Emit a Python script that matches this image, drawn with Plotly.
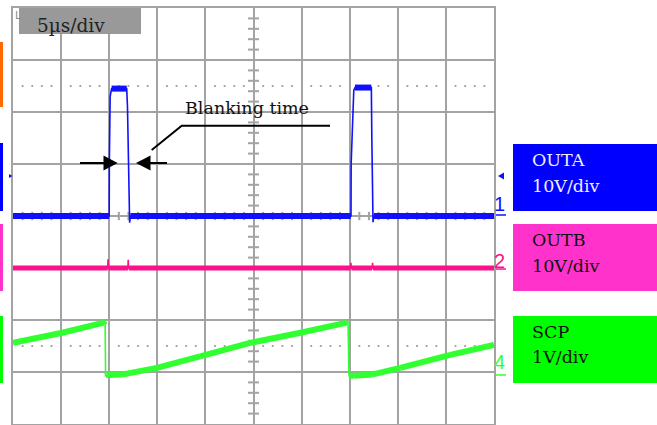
import numpy as np
import plotly.graph_objects as go

# ---------------- data (in scope divisions) ----------------
outa_x = [0, 2.0, 2.003, 2.02, 2.05, 2.364, 2.38, 2.40, 2.415, 2.425, 2.44,
          7.02, 7.027, 7.03, 7.06, 7.085, 7.11, 7.45, 7.46, 7.475, 7.485, 7.50, 10]
outa_y = [0, 0, 1.0, 2.3, 2.45, 2.45, 2.1, 1.0, 0, -0.13, 0,
          0, 0, 1.0, 2.0, 2.42, 2.47, 2.47, 1.5, 0.05, -0.12, 0, 0]

outb_x = [0, 1.97, 1.975, 1.985, 2.39, 2.395, 2.405, 7.02, 7.025, 7.035, 7.47, 7.475, 7.485, 10]
outb_y = [-1.0, -1.0, -0.83, -1.0, -1.0, -0.84, -1.0, -1.0, -0.9, -1.0, -1.0, -0.9, -1.0, -1.0]

scp_x = [0, 1.0, 1.89, 1.915, 1.925, 1.95, 2.26, 2.99, 3.89, 4.93, 6.0, 6.94,
         6.965, 6.985, 7.1, 7.46, 8.05, 9.09, 10]
scp_y = [-2.44, -2.25, -2.05, -2.02, -3.07, -3.06, -3.05, -2.92, -2.70, -2.44, -2.24, -2.05,
         -2.02, -3.07, -3.07, -3.05, -2.92, -2.67, -2.48]

time_label = "5µs/div"
channels = ["OUTA", "OUTB", "SCP"]
scales = ["10V/div", "10V/div", "1V/div"]
annot_text = "Blanking time"

# ---------------- geometry helpers ----------------
W, H = 657, 425
L, R, T, B = 13, 494, 8, 424


def PX(x):
    return (x - L) / (R - L)


def PY(y):
    return (B - y) / (B - T)


def bands(xs, ys, max_slope=1.2):
    bx, by = [], []
    for i in range(len(xs) - 1):
        dx = xs[i + 1] - xs[i]
        dy = ys[i + 1] - ys[i]
        if dx > 0 and abs(dy / dx) <= max_slope:
            bx += [xs[i], xs[i + 1], None]
            by += [ys[i], ys[i + 1], None]
    return bx, by


GRID = "#a3a3a3"
fig = go.Figure()

# center-line minor ticks
tx, ty = [], []
for v in np.arange(-4, 4.001, 0.2):
    if abs(v - round(v)) > 1e-6:
        tx += [5 - 0.115, 5 + 0.115, None]
        ty += [v, v, None]
for v in np.arange(0, 10.001, 0.2):
    if abs(v - round(v)) > 1e-6:
        tx += [v, v, None]
        ty += [-0.08, 0.08, None]
fig.add_trace(go.Scatter(x=tx, y=ty, mode="lines", line=dict(color=GRID, width=2),
                         hoverinfo="skip", showlegend=False))

# dotted reference lines
dx_, dy_ = [], []
for yy in (2.5, -2.5):
    for v in np.arange(0, 10.001, 0.2):
        if abs(v - round(v)) > 1e-6:
            dx_.append(v)
            dy_.append(yy)
fig.add_trace(go.Scatter(x=dx_, y=dy_, mode="markers",
                         marker=dict(color="#9a9a9a", size=2.2, line=dict(width=0)),
                         hoverinfo="skip", showlegend=False))

series = [
    (outa_x, outa_y, "#1010ff", 6),
    (outb_x, outb_y, "#ff1088", 5),
    (scp_x, scp_y, "#30ff30", 6),
]
for xs, ys, col, bw in series:
    fig.add_trace(go.Scatter(x=xs, y=ys, mode="lines", line=dict(color=col, width=1.6),
                             hoverinfo="skip", showlegend=False))
    bx, by = bands(xs, ys)
    fig.add_trace(go.Scatter(x=bx, y=by, mode="lines", line=dict(color=col, width=bw),
                             hoverinfo="skip", showlegend=False))

shapes = []
ann = []

# left cut-off bars
for (y0, y1, c) in [(42, 107, "#ff6a00"), (143, 211, "#0000ff"), (224, 291, "#ff33cc"), (316, 383, "#00ff00")]:
    shapes.append(dict(type="rect", xref="paper", yref="paper", x0=PX(0), x1=PX(3),
                       y0=PY(y1), y1=PY(y0), fillcolor=c, line=dict(width=0), layer="above"))

# time/div box
shapes.append(dict(type="rect", xref="paper", yref="paper", x0=PX(19), x1=PX(141),
                   y0=PY(34), y1=PY(8), fillcolor="#999999", line=dict(width=0), layer="above"))
ann.append(dict(x=PX(35), y=PY(26), xref="paper", yref="paper", text=time_label,
                showarrow=False, xanchor="left", yanchor="middle",
                font=dict(family="DejaVu Serif", size=18.5, color="#222222")))
ann.append(dict(x=PX(13), y=PY(15), xref="paper", yref="paper", text="L",
                showarrow=False, xanchor="left", yanchor="middle",
                font=dict(family="DejaVu Sans", size=10, color="#888888")))

# channel boxes
box_rows = [(144, 211, "#0000ff", "#eeeeff", 160, 186),
            (224, 291, "#ff33cc", "#111111", 240, 266),
            (316, 383, "#00ff00", "#111111", 332, 357)]
for i, (y0, y1, c, tc, l1, l2) in enumerate(box_rows):
    shapes.append(dict(type="rect", xref="paper", yref="paper", x0=PX(513), x1=PX(657),
                       y0=PY(y1), y1=PY(y0), fillcolor=c, line=dict(width=0), layer="above"))
    ann.append(dict(x=PX(530), y=PY(l1), xref="paper", yref="paper", text=channels[i],
                    showarrow=False, xanchor="left", yanchor="middle",
                    font=dict(family="DejaVu Serif", size=17.5, color=tc)))
    ann.append(dict(x=PX(530), y=PY(l2), xref="paper", yref="paper", text=scales[i],
                    showarrow=False, xanchor="left", yanchor="middle",
                    font=dict(family="DejaVu Serif", size=17.5, color=tc)))

# channel markers on right
for num, col, cy, uy in [("1", "#1010ff", 204, 215), ("2", "#ff1088", 261, 269), ("4", "#30ff30", 362, 375)]:
    ann.append(dict(x=PX(500), y=PY(cy), xref="paper", yref="paper", text=num,
                    showarrow=False, xanchor="center", yanchor="middle",
                    font=dict(family="Liberation Sans", size=20, color=col)))
    shapes.append(dict(type="line", xref="paper", yref="paper", x0=PX(496), x1=PX(506),
                       y0=PY(uy), y1=PY(uy), line=dict(color=col, width=1.5), layer="above"))

# trigger markers
shapes.append(dict(type="path", xref="paper", yref="paper",
                   path=f"M {PX(498)},{PY(176)} L {PX(504)},{PY(172.5)} L {PX(504)},{PY(179.5)} Z",
                   fillcolor="#1010ff", line=dict(width=0), layer="above"))
shapes.append(dict(type="path", xref="paper", yref="paper",
                   path=f"M {PX(12.5)},{PY(176)} L {PX(9)},{PY(174)} L {PX(9)},{PY(178)} Z",
                   fillcolor="#1010ff", line=dict(width=0), layer="above"))

# blanking annotation
ann.append(dict(x=PX(183), y=PY(108.5), xref="paper", yref="paper", text=annot_text,
                showarrow=False, xanchor="left", yanchor="middle",
                font=dict(family="DejaVu Serif", size=17.5, color="#111111")))
shapes.append(dict(type="path", xref="paper", yref="paper",
                   path=f"M {PX(151.7)},{PY(150)} L {PX(181.7)},{PY(125.7)} L {PX(330)},{PY(125.7)}",
                   line=dict(color="#000000", width=2), layer="above"))
# arrows
shapes.append(dict(type="line", xref="paper", yref="paper", x0=PX(80), x1=PX(105),
                   y0=PY(163), y1=PY(163), line=dict(color="#000000", width=2), layer="above"))
shapes.append(dict(type="path", xref="paper", yref="paper",
                   path=f"M {PX(103.5)},{PY(155.5)} L {PX(117.7)},{PY(163)} L {PX(103.5)},{PY(170.5)} Z",
                   fillcolor="#000000", line=dict(width=0), layer="above"))
shapes.append(dict(type="path", xref="paper", yref="paper",
                   path=f"M {PX(136)},{PY(163)} L {PX(150.5)},{PY(155.5)} L {PX(150.5)},{PY(170.5)} Z",
                   fillcolor="#000000", line=dict(width=0), layer="above"))
shapes.append(dict(type="line", xref="paper", yref="paper", x0=PX(149), x1=PX(167),
                   y0=PY(163), y1=PY(163), line=dict(color="#000000", width=2), layer="above"))

fig.update_layout(
    width=W, height=H,
    margin=dict(l=L, r=W - R, t=T, b=H - B, autoexpand=False),
    paper_bgcolor="white", plot_bgcolor="white",
    showlegend=False,
    shapes=shapes, annotations=ann,
    xaxis=dict(range=[0, 10], dtick=1, tick0=0, showgrid=True, gridcolor=GRID, gridwidth=2,
               zeroline=False, showticklabels=False, ticks="", showline=True, mirror=True,
               linecolor=GRID, linewidth=2, fixedrange=True),
    yaxis=dict(range=[-4, 4], dtick=1, tick0=0, showgrid=True, gridcolor=GRID, gridwidth=2,
               zeroline=False, showticklabels=False, ticks="", showline=True, mirror=True,
               linecolor=GRID, linewidth=2, fixedrange=True),
)

fig.write_html("out.html", config={"displayModeBar": False},
               post_script="document.body.style.margin='0';document.body.style.overflow='hidden';")
